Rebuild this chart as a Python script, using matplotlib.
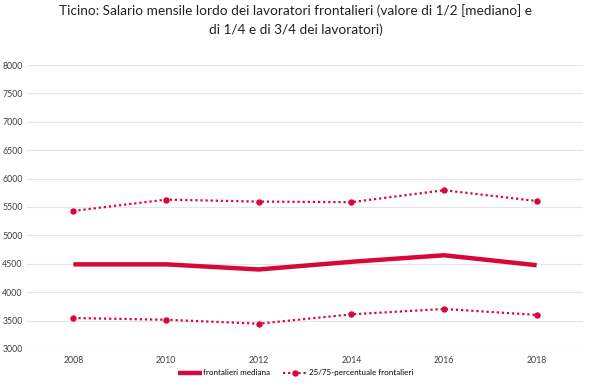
import matplotlib
matplotlib.use("Agg")
import matplotlib.pyplot as plt

years = ["2008", "2010", "2012", "2014", "2016", "2018"]
mediana = [4490, 4490, 4400, 4535, 4650, 4475]
p25 = [3545, 3515, 3445, 3610, 3705, 3600]
p75 = [5430, 5630, 5595, 5585, 5795, 5605]
yticks = [3000, 3500, 4000, 4500, 5000, 5500, 6000, 6500, 7000, 7500, 8000]

plt.rcParams['font.family'] = ['Lato', 'DejaVu Sans']
red = '#D9063C'

fig = plt.figure(figsize=(5.91, 3.86), dpi=100)
ax = fig.add_axes([0.0457, 0.0959, 0.9408, 0.7357])
x = list(range(len(years)))
ax.plot(x, mediana, color=red, lw=3.2, solid_capstyle='butt', label='frontalieri mediana')
ax.plot(x, p75, color=red, lw=1.6, ls=(0, (1, 1.3)), marker='o', ms=3.6,
        label='25/75-percentuale frontalieri')
ax.plot(x, p25, color=red, lw=1.6, ls=(0, (1, 1.3)), marker='o', ms=3.6)

ax.set_xlim(-0.5, len(years) - 0.5)
ax.set_ylim(3000, 8000)
ax.set_yticks(yticks)
ax.set_yticklabels([str(v) for v in yticks], fontsize=6.3, color='#404040')
ax.set_xticks(x)
ax.set_xticklabels(years, fontsize=6.3, color='#404040')
ax.tick_params(length=0, pad=5)
ax.tick_params(axis='y', pad=3)
ax.grid(axis='y', color='#e6e6e6', lw=0.8)
ax.set_axisbelow(True)
for s in ax.spines.values():
    s.set_visible(False)

fig.text(0.5, 0.99, "Ticino: Salario mensile lordo dei lavoratori frontalieri (valore di 1/2 [mediano] e\ndi 1/4 e di 3/4 dei lavoratori)",
         ha='center', va='top', fontsize=9.8, color='#222222', linespacing=1.6)

leg = fig.legend(loc='center', bbox_to_anchor=(0.5, 0.034), ncol=2, frameon=False,
                 fontsize=5.8, handlelength=3.0, columnspacing=1.6, handletextpad=0.2)
fig.savefig('out.png', dpi=100)
